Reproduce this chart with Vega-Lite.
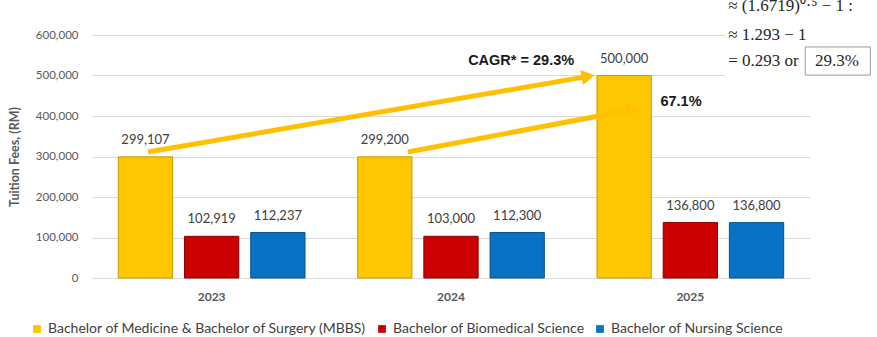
{
  "$schema": "https://vega.github.io/schema/vega-lite/v6.json",
  "width": 718,
  "height": 243,
  "autosize": "none",
  "padding": {"left": 92, "top": 35, "right": 67, "bottom": 59},
  "background": "white",
  "config": {"view": {"stroke": null}, "font": "Lato"},
  "datasets": {
    "fees": [
      {"year": "2023", "program": "Bachelor of Medicine & Bachelor of Surgery (MBBS)", "fee": 299107},
      {"year": "2023", "program": "Bachelor of Biomedical Science", "fee": 102919},
      {"year": "2023", "program": "Bachelor of Nursing Science", "fee": 112237},
      {"year": "2024", "program": "Bachelor of Medicine & Bachelor of Surgery (MBBS)", "fee": 299200},
      {"year": "2024", "program": "Bachelor of Biomedical Science", "fee": 103000},
      {"year": "2024", "program": "Bachelor of Nursing Science", "fee": 112300},
      {"year": "2025", "program": "Bachelor of Medicine & Bachelor of Surgery (MBBS)", "fee": 500000},
      {"year": "2025", "program": "Bachelor of Biomedical Science", "fee": 136800},
      {"year": "2025", "program": "Bachelor of Nursing Science", "fee": 136800}
    ],
    "arrows": [
      {"arrow": "CAGR", "x0": 0.234, "y0": 311000, "x1": 2.073, "y1": 497800},
      {"arrow": "growth", "x0": 1.32, "y0": 311000, "x1": 2.261, "y1": 416000}
    ],
    "bold_notes": [
      {"note": "CAGR* = 29.3%", "x": 1.793, "y": 535800},
      {"note": "67.1%", "x": 2.461, "y": 435000}
    ],
    "formula": [
      {"line": "≈ (1.6719)⁰·⁵ − 1 :", "x": 2.658, "y": 672000},
      {"line": "≈ 1.293 − 1", "x": 2.658, "y": 600000},
      {"line": "= 0.293 or", "x": 2.658, "y": 535800}
    ],
    "boxed": [
      {"line": "29.3%", "x": 3.113, "y": 535800, "bx0": 2.98, "bx1": 3.252, "by0": 501000, "by1": 570400}
    ],
    "cover": [
      {"x0": 2.645, "x1": 3.3, "y0": 482000, "y1": 700000}
    ]
  },
  "layer": [
    {
      "data": {"name": "fees"},
      "encoding": {
        "x": {
          "field": "year", "type": "nominal",
          "scale": {"paddingInner": 0.22, "paddingOuter": 0.11},
          "axis": {"title": null, "labelAngle": 0, "domain": false, "ticks": false,
                   "labelFontSize": 12, "labelFontWeight": "bold", "labelColor": "#595959", "labelPadding": 13}
        },
        "xOffset": {
          "field": "program", "type": "nominal",
          "scale": {"domain": ["Bachelor of Medicine & Bachelor of Surgery (MBBS)", "Bachelor of Biomedical Science", "Bachelor of Nursing Science"], "paddingInner": 0.18, "paddingOuter": 0}
        },
        "y": {
          "field": "fee", "type": "quantitative",
          "scale": {"domain": [0, 600000], "nice": false},
          "axis": {
            "title": "Tuition Fees, (RM)", "titleFontSize": 12.5, "titleColor": "#595959", "titleFontWeight": "bold", "titlePadding": 14,
            "values": [0, 100000, 200000, 300000, 400000, 500000, 600000], "format": ",d",
            "domain": false, "ticks": false, "labelFontSize": 11.5, "labelColor": "#595959", "labelPadding": 14,
            "gridColor": "#d9d9d9"
          }
        }
      },
      "layer": [
        {
          "mark": {"type": "bar", "strokeWidth": 1},
          "encoding": {
            "color": {
              "field": "program", "type": "nominal",
              "scale": {"domain": ["Bachelor of Medicine & Bachelor of Surgery (MBBS)", "Bachelor of Biomedical Science", "Bachelor of Nursing Science"], "range": ["#FFC602", "#CC0000", "#0A72C4"]},
              "legend": {
                "title": null, "orient": "none", "direction": "horizontal", "legendX": -62, "legendY": 287,
                "symbolType": "square", "symbolSize": 60, "symbolStrokeWidth": 0, "labelFontSize": 14, "labelColor": "#404040",
                "columnPadding": 8, "labelLimit": 450, "labelOffset": 4
              }
            },
            "stroke": {
              "field": "program", "type": "nominal",
              "scale": {"domain": ["Bachelor of Medicine & Bachelor of Surgery (MBBS)", "Bachelor of Biomedical Science", "Bachelor of Nursing Science"], "range": ["#C99A00", "#8A0000", "#07528E"]},
              "legend": null
            }
          }
        },
        {
          "mark": {"type": "text", "baseline": "bottom", "dy": -10, "fontSize": 13, "color": "#404040"},
          "encoding": {"text": {"field": "fee", "type": "quantitative", "format": ",d"}}
        }
      ]
    },
    {
      "layer": [
        {
          "data": {"name": "cover"},
          "mark": {"type": "rect", "fill": "white"},
          "encoding": {
            "x": {"field": "x0", "type": "quantitative", "scale": {"domain": [0, 3], "nice": false, "zero": false}, "axis": null},
            "x2": {"field": "x1"},
            "y": {"field": "y0", "type": "quantitative", "scale": {"domain": [0, 600000], "nice": false}},
            "y2": {"field": "y1"}
          }
        },
        {
          "data": {"name": "arrows"},
          "mark": {"type": "rule", "color": "#FFC000", "strokeWidth": 5},
          "encoding": {
            "x": {"field": "x0", "type": "quantitative", "scale": {"domain": [0, 3], "nice": false, "zero": false}, "axis": null},
            "x2": {"field": "x1"},
            "y": {"field": "y0", "type": "quantitative", "scale": {"domain": [0, 600000], "nice": false}},
            "y2": {"field": "y1"}
          }
        },
        {
          "data": {"name": "arrows"},
          "mark": {"type": "point", "shape": "triangle-right", "filled": true, "color": "#FFC000", "size": 230, "angle": -10, "opacity": 1},
          "encoding": {
            "x": {"field": "x1", "type": "quantitative", "scale": {"domain": [0, 3], "nice": false, "zero": false}, "axis": null},
            "y": {"field": "y1", "type": "quantitative", "scale": {"domain": [0, 600000], "nice": false}}
          }
        },
        {
          "data": {"name": "bold_notes"},
          "mark": {"type": "text", "font": "Liberation Sans", "fontWeight": "bold", "fontSize": 14.5, "color": "#1a1a1a", "baseline": "middle"},
          "encoding": {
            "x": {"field": "x", "type": "quantitative", "scale": {"domain": [0, 3], "nice": false, "zero": false}, "axis": null},
            "y": {"field": "y", "type": "quantitative", "scale": {"domain": [0, 600000], "nice": false}},
            "text": {"field": "note"}
          }
        },
        {
          "data": {"name": "formula"},
          "mark": {"type": "text", "font": "Liberation Serif", "fontSize": 17, "color": "#262626", "align": "left", "baseline": "middle"},
          "encoding": {
            "x": {"field": "x", "type": "quantitative", "scale": {"domain": [0, 3], "nice": false, "zero": false}, "axis": null},
            "y": {"field": "y", "type": "quantitative", "scale": {"domain": [0, 600000], "nice": false}},
            "text": {"field": "line"}
          }
        },
        {
          "data": {"name": "boxed"},
          "mark": {"type": "rect", "fill": "white", "stroke": "#9a9a9a", "strokeWidth": 1},
          "encoding": {
            "x": {"field": "bx0", "type": "quantitative", "scale": {"domain": [0, 3], "nice": false, "zero": false}, "axis": null},
            "x2": {"field": "bx1"},
            "y": {"field": "by0", "type": "quantitative", "scale": {"domain": [0, 600000], "nice": false}},
            "y2": {"field": "by1"}
          }
        },
        {
          "data": {"name": "boxed"},
          "mark": {"type": "text", "font": "Liberation Serif", "fontSize": 17, "color": "#262626", "align": "center", "baseline": "middle"},
          "encoding": {
            "x": {"field": "x", "type": "quantitative", "scale": {"domain": [0, 3], "nice": false, "zero": false}, "axis": null},
            "y": {"field": "y", "type": "quantitative", "scale": {"domain": [0, 600000], "nice": false}},
            "text": {"field": "line"}
          }
        }
      ]
    }
  ],
  "resolve": {"scale": {"x": "independent"}}
}
